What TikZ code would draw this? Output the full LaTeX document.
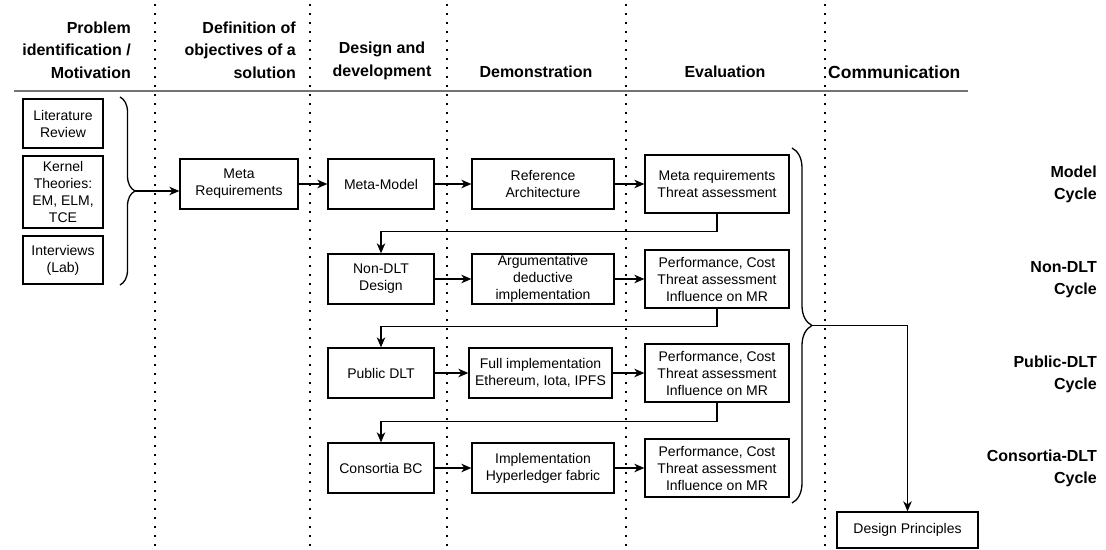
\documentclass[tikz,border=0pt]{standalone}
\usepackage{fontspec}
\setmainfont{Liberation Sans}
\usetikzlibrary{arrows.meta,decorations.pathreplacing}

\begin{document}
\begin{tikzpicture}[x=1pt, y=-1pt,
        box/.style={draw=black, line width=1.3pt, fill=white, align=center, inner sep=0pt,
            font=\fontsize{14}{17}\selectfont},
        colhead/.style={inner sep=0pt, font=\fontsize{16}{22.5}\selectfont\bfseries},
        cyclelabel/.style={inner sep=0pt, align=right, anchor=east, font=\fontsize{16}{22}\selectfont\bfseries},
        phaseline/.style={line width=2pt, dash pattern=on 2pt off 7pt},
        link/.style={line width=1.3pt, -{Stealth[length=10pt, width=8.5pt, inset=3pt]}},
        curly/.style={decorate, decoration={brace, amplitude=#1}, line width=1.3pt}]
        \useasboundingbox (0,0) rectangle (1106,549);

        % phase lines
        \foreach \x in {155,310,447,626,825}
            \draw[phaseline] (\x,4) -- (\x,549);
        \draw[line width=2.2pt, black!55] (14,91) -- (968,91);

        % phase headers
        \node[colhead, align=right, anchor=east] (problem) at (131,50) {Problem\\identification /\\Motivation};
        \node[colhead, align=right, anchor=east] (objectives) at (296,50) {Definition of\\objectives of a\\solution};
        \node[colhead, align=center] (design) at (382,61) {Design and\\development};
        \node[colhead] (demo) at (536,72) {Demonstration};
        \node[colhead] (evaluation) at (725,72) {Evaluation};
        \node[colhead, anchor=west, font=\fontsize{17.5}{22.5}\selectfont\bfseries] (communication) at (828,72) {Communication};

        % inputs
        \node[box, minimum width=80, minimum height=49] (literature) at (63,123.5) {Literature\\Review};
        \node[box, minimum width=80, minimum height=72] (kernel) at (63,192) {Kernel\\Theories:\\EM, ELM,\\TCE};
        \node[box, minimum width=80, minimum height=48] (interviews) at (63,260) {Interviews\\(Lab)};
        \draw[curly=15pt] (120,97) -- (120,285);
        \coordinate (inputs) at (135,191);

        % model cycle
        \node[box, minimum width=118, minimum height=50] (metareq) at (239,184) {Meta\\Requirements};
        \node[box, minimum width=106, minimum height=50] (metamodel) at (381,184) {Meta-Model};
        \node[box, minimum width=142, minimum height=50] (refarch) at (543,184) {Reference\\Architecture};
        \node[box, minimum width=144, minimum height=58] (evalmodel) at (717,184) {Meta requirements\\Threat assessment};

        % non-DLT cycle
        \node[box, minimum width=106, minimum height=50] (nondlt) at (381,279) {Non-DLT\\Design};
        \node[box, minimum width=142, minimum height=50] (argument) at (543,279) {Argumentative\\deductive\\implementation};
        \node[box, minimum width=144, minimum height=58] (evalnondlt) at (717,279) {Performance, Cost\\Threat assessment\\Influence on MR};

        % public DLT cycle
        \node[box, minimum width=106, minimum height=50] (public) at (381,373) {Public DLT};
        \node[box, minimum width=143, minimum height=50] (fullimpl) at (540.5,373) {Full implementation\\Ethereum, Iota, IPFS};
        \node[box, minimum width=144, minimum height=58] (evalpublic) at (717,373) {Performance, Cost\\Threat assessment\\Influence on MR};

        % consortia DLT cycle
        \node[box, minimum width=106, minimum height=50] (consortia) at (381,468) {Consortia BC};
        \node[box, minimum width=142, minimum height=50] (hyperledger) at (543,468) {Implementation\\Hyperledger fabric};
        \node[box, minimum width=144, minimum height=58] (evalconsortia) at (717,468) {Performance, Cost\\Threat assessment\\Influence on MR};

        % results
        \draw[curly=20pt] (792,148) -- (792,503);
        \coordinate (results) at (812,325.5);
        \node[box, minimum width=141, minimum height=36] (principles) at (907.5,530) {Design Principles};

        % cycle labels
        \node[cyclelabel] (modelcycle) at (1097,184) {Model\\Cycle};
        \node[cyclelabel] (nondltcycle) at (1097,280) {Non-DLT\\Cycle};
        \node[cyclelabel] (publiccycle) at (1097,374) {Public-DLT\\Cycle};
        \node[cyclelabel] (consortiacycle) at (1097,468) {Consortia-DLT\\Cycle};

        % arrows
        \draw[link] (inputs) -- (inputs -| metareq.west);
        \draw[link] (metareq) -- (metamodel);
        \draw[link] (metamodel) -- (refarch);
        \draw[link] (refarch) -- (evalmodel);
        \draw[link] (evalmodel.south) -- ++(0,18) -| (nondlt.north);
        \draw[link] (nondlt) -- (argument);
        \draw[link] (argument) -- (evalnondlt);
        \draw[link] (evalnondlt.south) -- ++(0,18) -| (public.north);
        \draw[link] (public) -- (fullimpl);
        \draw[link] (fullimpl) -- (evalpublic);
        \draw[link] (evalpublic.south) -- ++(0,19) -| (consortia.north);
        \draw[link] (consortia) -- (hyperledger);
        \draw[link] (hyperledger) -- (evalconsortia);
        \draw[link] (results) -| (principles.north);
    \end{tikzpicture}
\end{document}
